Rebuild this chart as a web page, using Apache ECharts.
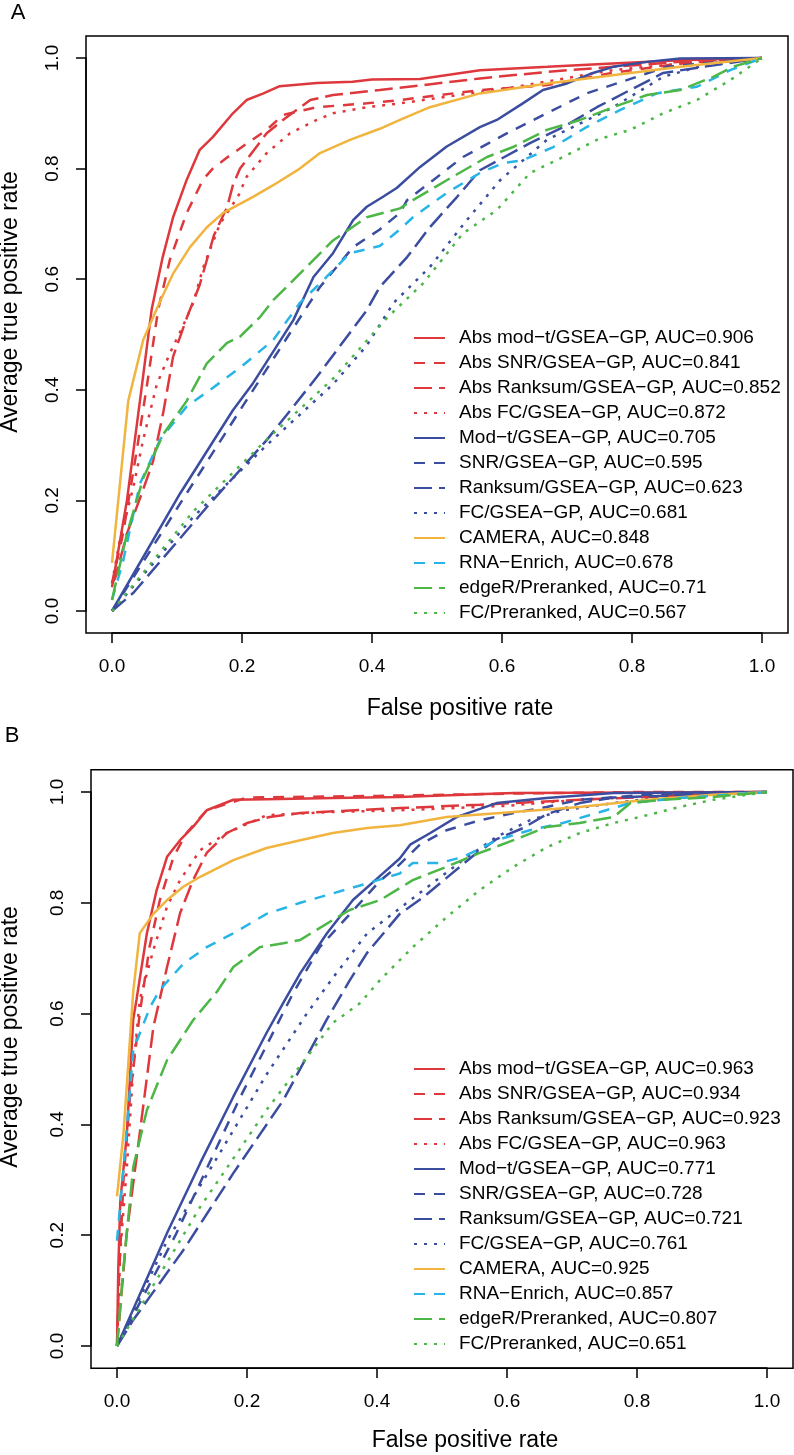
<!DOCTYPE html>
<html>
<head>
<meta charset="utf-8">
<script src="https://cdn.jsdelivr.net/npm/echarts@6.0.0/dist/echarts.min.js"></script>
<style>
  html, body { margin: 0; padding: 0; background: #fff; }
  #chart { width: 794px; height: 1455px; }
</style>
</head>
<body>
<div id="chart"></div>
<script>
// methods, in legend order
const methods = [
  "Abs mod\u2212t/GSEA\u2212GP", "Abs SNR/GSEA\u2212GP", "Abs Ranksum/GSEA\u2212GP", "Abs FC/GSEA\u2212GP",
  "Mod\u2212t/GSEA\u2212GP", "SNR/GSEA\u2212GP", "Ranksum/GSEA\u2212GP", "FC/GSEA\u2212GP",
  "CAMERA", "RNA\u2212Enrich", "edgeR/Preranked", "FC/Preranked"
];
const aucA = ["0.906", "0.841", "0.852", "0.872", "0.705", "0.595", "0.623", "0.681", "0.848", "0.678", "0.71", "0.567"];
const aucB = ["0.963", "0.934", "0.923", "0.963", "0.771", "0.728", "0.721", "0.761", "0.925", "0.857", "0.807", "0.651"];

// panel A curves: [false positive rate, average true positive rate]
const aAbsModT = [[0,0.043],[0.023,0.20],[0.043,0.38],[0.061,0.545],[0.078,0.64],[0.094,0.712],[0.115,0.78],[0.135,0.834],[0.155,0.857],[0.186,0.90],[0.207,0.924],[0.233,0.936],[0.258,0.949],[0.315,0.955],[0.37,0.957],[0.40,0.961],[0.474,0.962],[0.566,0.978],[0.67,0.984],[0.77,0.99],[0.874,0.996],[1,1]];
const aAbsSnr = [[0,0.05],[0.017,0.14],[0.038,0.29],[0.054,0.41],[0.071,0.545],[0.089,0.635],[0.115,0.72],[0.14,0.78],[0.155,0.80],[0.177,0.82],[0.207,0.845],[0.238,0.87],[0.263,0.897],[0.315,0.911],[0.392,0.918],[0.443,0.924],[0.566,0.942],[0.67,0.951],[0.77,0.973],[0.874,0.99],[1,1]];
const aAbsRanksum = [[0,0.05],[0.005,0.06],[0.023,0.14],[0.045,0.21],[0.063,0.27],[0.079,0.36],[0.094,0.46],[0.115,0.53],[0.135,0.59],[0.157,0.68],[0.177,0.73],[0.186,0.77],[0.197,0.80],[0.238,0.864],[0.263,0.888],[0.305,0.924],[0.34,0.933],[0.412,0.942],[0.566,0.963],[0.67,0.975],[0.77,0.984],[0.874,0.993],[1,1]];
const aAbsFc = [[0,0.05],[0.012,0.128],[0.033,0.225],[0.048,0.31],[0.069,0.41],[0.089,0.466],[0.107,0.51],[0.125,0.557],[0.14,0.62],[0.166,0.70],[0.194,0.75],[0.207,0.785],[0.238,0.828],[0.274,0.864],[0.315,0.888],[0.34,0.90],[0.392,0.911],[0.443,0.918],[0.617,0.947],[0.77,0.978],[0.92,0.995],[1,1]];
const aModT = [[0,0],[0.105,0.213],[0.186,0.363],[0.217,0.412],[0.279,0.526],[0.31,0.604],[0.34,0.647],[0.371,0.707],[0.392,0.731],[0.417,0.749],[0.438,0.765],[0.474,0.803],[0.515,0.84],[0.566,0.875],[0.592,0.888],[0.632,0.918],[0.663,0.942],[0.70,0.954],[0.74,0.973],[0.771,0.984],[0.823,0.993],[0.874,0.999],[1,1]];
const aSnr = [[0,0],[0.115,0.213],[0.197,0.363],[0.30,0.55],[0.32,0.586],[0.371,0.658],[0.412,0.69],[0.443,0.72],[0.454,0.743],[0.494,0.779],[0.54,0.821],[0.608,0.864],[0.669,0.90],[0.73,0.936],[0.792,0.96],[0.853,0.984],[1,1]];
const aRanksum = [[0,0],[0.033,0.033],[0.146,0.188],[0.238,0.309],[0.315,0.423],[0.392,0.544],[0.412,0.586],[0.454,0.64],[0.489,0.694],[0.531,0.749],[0.566,0.797],[0.643,0.846],[0.694,0.875],[0.746,0.911],[0.797,0.942],[0.848,0.973],[1,1]];
const aFc = [[0,0],[0.125,0.17],[0.238,0.30],[0.34,0.41],[0.392,0.48],[0.433,0.557],[0.489,0.622],[0.546,0.707],[0.597,0.779],[0.669,0.852],[0.771,0.911],[0.848,0.966],[0.92,0.99],[1,1]];
const aCamera = [[0,0.087],[0.025,0.38],[0.048,0.49],[0.074,0.56],[0.094,0.61],[0.12,0.658],[0.146,0.694],[0.171,0.72],[0.217,0.749],[0.248,0.77],[0.289,0.80],[0.32,0.828],[0.366,0.852],[0.412,0.872],[0.443,0.888],[0.489,0.911],[0.566,0.936],[0.67,0.954],[0.77,0.969],[0.874,0.984],[1,1]];
const aRnaEnrich = [[0,0.02],[0.017,0.09],[0.043,0.23],[0.074,0.31],[0.115,0.37],[0.151,0.40],[0.197,0.44],[0.248,0.49],[0.289,0.557],[0.33,0.604],[0.366,0.647],[0.412,0.66],[0.443,0.69],[0.463,0.712],[0.515,0.756],[0.566,0.792],[0.602,0.81],[0.632,0.815],[0.679,0.839],[0.73,0.875],[0.782,0.906],[0.838,0.936],[0.9,0.948],[0.951,0.978],[1,1]];
const aEdgeR = [[0,0.02],[0.023,0.14],[0.048,0.24],[0.079,0.32],[0.115,0.38],[0.146,0.448],[0.177,0.485],[0.197,0.496],[0.228,0.532],[0.248,0.562],[0.289,0.61],[0.34,0.67],[0.392,0.712],[0.443,0.728],[0.463,0.743],[0.515,0.779],[0.577,0.821],[0.617,0.839],[0.669,0.87],[0.72,0.888],[0.771,0.911],[0.823,0.933],[0.874,0.942],[0.925,0.966],[0.955,0.984],[1,1]];
const aFcPreranked = [[0,0],[0.125,0.18],[0.238,0.31],[0.34,0.42],[0.423,0.53],[0.479,0.593],[0.54,0.683],[0.592,0.725],[0.643,0.792],[0.694,0.821],[0.746,0.852],[0.797,0.87],[0.848,0.90],[0.9,0.924],[0.951,0.96],[1,1]];

// panel B curves
const bAbsModT = [[0,0],[0.002,0.14],[0.005,0.26],[0.015,0.38],[0.025,0.59],[0.03,0.625],[0.046,0.745],[0.061,0.823],[0.077,0.883],[0.097,0.913],[0.117,0.937],[0.138,0.967],[0.179,0.986],[0.23,0.987],[0.332,0.989],[0.435,0.991],[0.61,0.998],[1,1]];
const bAbsSnr = [[0,0],[0.003,0.12],[0.01,0.3],[0.02,0.45],[0.035,0.6],[0.05,0.72],[0.066,0.805],[0.087,0.883],[0.107,0.926],[0.138,0.967],[0.2,0.99],[0.4,0.993],[0.6,0.997],[0.8,1],[1,1]];
const bAbsRanksum = [[0,0],[0.015,0.204],[0.035,0.384],[0.056,0.576],[0.077,0.684],[0.097,0.781],[0.117,0.841],[0.138,0.89],[0.169,0.926],[0.2,0.944],[0.235,0.955],[0.282,0.962],[0.435,0.971],[0.558,0.977],[0.712,0.986],[0.815,0.991],[1,1]];
const bAbsFc = [[0,0],[0.005,0.17],[0.015,0.32],[0.025,0.50],[0.035,0.625],[0.056,0.715],[0.077,0.793],[0.097,0.841],[0.128,0.895],[0.169,0.926],[0.23,0.958],[0.332,0.964],[0.435,0.967],[0.6,0.975],[0.71,0.986],[0.866,0.995],[1,1]];
const bModT = [[0,0],[0.077,0.204],[0.128,0.33],[0.179,0.45],[0.23,0.565],[0.256,0.62],[0.282,0.673],[0.323,0.745],[0.363,0.805],[0.41,0.854],[0.435,0.88],[0.451,0.905],[0.482,0.926],[0.523,0.955],[0.584,0.98],[0.661,0.989],[0.764,0.998],[1,1]];
const bSnr = [[0,0],[0.09,0.2],[0.19,0.45],[0.271,0.637],[0.312,0.72],[0.374,0.80],[0.405,0.84],[0.431,0.865],[0.466,0.905],[0.507,0.931],[0.558,0.949],[0.61,0.962],[0.661,0.973],[0.712,0.986],[0.815,0.995],[1,1]];
const bRanksum = [[0,0],[0.025,0.047],[0.102,0.173],[0.179,0.312],[0.256,0.444],[0.323,0.59],[0.358,0.66],[0.385,0.71],[0.435,0.78],[0.471,0.81],[0.507,0.845],[0.548,0.885],[0.584,0.915],[0.625,0.935],[0.661,0.96],[0.712,0.98],[0.764,0.99],[1,1]];
const bFc = [[0,0],[0.077,0.19],[0.154,0.34],[0.23,0.49],[0.292,0.60],[0.333,0.666],[0.385,0.745],[0.435,0.79],[0.466,0.818],[0.532,0.877],[0.584,0.919],[0.635,0.949],[0.686,0.967],[0.763,0.98],[0.84,0.991],[1,1]];
const bCamera = [[0,0.27],[0.01,0.384],[0.025,0.64],[0.035,0.745],[0.056,0.78],[0.077,0.805],[0.102,0.829],[0.128,0.847],[0.179,0.877],[0.23,0.899],[0.282,0.913],[0.332,0.926],[0.385,0.935],[0.435,0.94],[0.507,0.955],[0.61,0.964],[0.712,0.973],[0.815,0.986],[0.917,0.995],[1,1]];
const bRnaEnrich = [[0,0.19],[0.01,0.32],[0.025,0.534],[0.051,0.612],[0.066,0.643],[0.102,0.69],[0.138,0.72],[0.179,0.745],[0.23,0.78],[0.282,0.80],[0.332,0.817],[0.385,0.835],[0.435,0.853],[0.455,0.872],[0.497,0.872],[0.533,0.883],[0.584,0.913],[0.635,0.931],[0.686,0.944],[0.738,0.962],[0.789,0.98],[0.866,0.989],[1,1]];
const bEdgeR = [[0,0],[0.01,0.143],[0.025,0.323],[0.046,0.426],[0.077,0.516],[0.117,0.588],[0.154,0.64],[0.179,0.684],[0.22,0.72],[0.256,0.727],[0.282,0.733],[0.332,0.769],[0.358,0.787],[0.405,0.805],[0.455,0.841],[0.507,0.865],[0.558,0.89],[0.61,0.913],[0.661,0.937],[0.712,0.944],[0.764,0.955],[0.79,0.98],[0.84,0.986],[0.917,0.991],[1,1]];
const bFcPreranked = [[0,0],[0.128,0.251],[0.23,0.426],[0.332,0.583],[0.374,0.619],[0.405,0.661],[0.455,0.72],[0.507,0.774],[0.558,0.823],[0.61,0.865],[0.661,0.90],[0.712,0.926],[0.764,0.944],[0.815,0.958],[0.866,0.973],[0.917,0.986],[1,1]];

const curvesA = [aAbsModT, aAbsSnr, aAbsRanksum, aAbsFc, aModT, aSnr, aRanksum, aFc, aCamera, aRnaEnrich, aEdgeR, aFcPreranked];
const curvesB = [bAbsModT, bAbsSnr, bAbsRanksum, bAbsFc, bModT, bSnr, bRanksum, bFc, bCamera, bRnaEnrich, bEdgeR, bFcPreranked];

const RED = "#de383d", BLUE = "#3a4d9f", GOLD = "#f0b43f", CYAN = "#27b4e6", GREEN = "#4cb747";
const colors = [RED, RED, RED, RED, BLUE, BLUE, BLUE, BLUE, GOLD, CYAN, GREEN, GREEN];
// R lty 1 / 2 / 5 / 3
const SOLID = "solid", DASH = [11, 9], LONG = [18, 7], DOT = [3, 7];
const dashes = [SOLID, DASH, LONG, DOT, SOLID, DASH, LONG, DOT, SOLID, DASH, LONG, DOT];

const FONT = "'Liberation Sans', Arial, Helvetica, sans-serif";

// pixel layout of the two panels (data region 0..1, box is 4% wider like R)
const panels = [
  { left: 112, top: 58, size: 650, height: 553, legendTop: 328, label: "A", labelX: 18, labelY: 13, xTitleY: 709, yTitleY: 302 },
  { left: 117, top: 792, size: 650, height: 554, legendTop: 1059, label: "B", labelX: 12, labelY: 736, xTitleY: 1441, yTitleY: 1037 }
];

function axisBase(offset) {
  return {
    type: "value", min: 0, max: 1, interval: 0.2, offset: offset,
    splitLine: { show: false },
    axisLine: { show: true, onZero: false, lineStyle: { color: "#000", width: 1.5 } },
    axisTick: { show: true, inside: false, length: 10, lineStyle: { color: "#000", width: 1.5 } },
    axisLabel: { color: "#000", fontSize: 19, fontFamily: FONT, margin: 24, formatter: v => v.toFixed(1) }
  };
}

const grids = [], xAxes = [], yAxes = [], legends = [], series = [], graphics = [];
panels.forEach((p, k) => {
  grids.push({ left: p.left, top: p.top, width: p.size, height: p.height });
  xAxes.push(Object.assign(axisBase(22), { gridIndex: k }));
  const ya = axisBase(26);
  ya.gridIndex = k;
  ya.axisLabel.rotate = 90;
  yAxes.push(ya);

  const aucs = k === 0 ? aucA : aucB;
  const curves = k === 0 ? curvesA : curvesB;
  const names = methods.map((m, i) => m + ", AUC=" + aucs[i]);
  names.forEach((name, i) => {
    series.push({
      type: "line", name: name, xAxisIndex: k, yAxisIndex: k,
      data: curves[i], symbol: "none", clip: false, silent: true,
      emphasis: { disabled: true },
      lineStyle: { color: colors[i], width: 2.5, type: dashes[i] },
      itemStyle: { color: "rgba(0,0,0,0)" }
    });
  });
  legends.push({
    orient: "vertical", left: 413, top: p.legendTop, padding: 0, data: names,
    itemWidth: 31, itemHeight: 10, itemGap: 5, selectedMode: false,
    itemStyle: { opacity: 0 },
    textStyle: { fontSize: 19, fontFamily: FONT, color: "#000", lineHeight: 20, padding: [0, 0, 0, 9] }
  });

  // plot box
  const bx = p.left - 0.04 * p.size, by = p.top - 0.04 * p.height;
  graphics.push({
    type: "rect", silent: true, z: 10,
    shape: { x: bx, y: by, width: p.size * 1.08, height: p.height * 1.08 },
    style: { fill: "none", stroke: "#000", lineWidth: 1.5 }
  });
  graphics.push({
    type: "text", silent: true, x: p.labelX, y: p.labelY,
    style: { text: p.label, font: "22px " + FONT, fill: "#000", textAlign: "center", textVerticalAlign: "middle" }
  });
  graphics.push({
    type: "text", silent: true, x: p.left + p.size / 2 + 23, y: p.xTitleY,
    style: { text: "False positive rate", font: "23px " + FONT, fill: "#000", textAlign: "center", textVerticalAlign: "middle" }
  });
  graphics.push({
    type: "text", silent: true, x: 11, y: p.yTitleY, rotation: Math.PI / 2,
    style: { text: "Average true positive rate", font: "23px " + FONT, fill: "#000", textAlign: "center", textVerticalAlign: "middle" }
  });
});

const chart = echarts.init(document.getElementById("chart"), null, { renderer: "canvas" });
chart.setOption({
  animation: false,
  backgroundColor: "#fff",
  grid: grids,
  xAxis: xAxes,
  yAxis: yAxes,
  legend: legends,
  series: series,
  graphic: graphics
});
</script>
</body>
</html>
